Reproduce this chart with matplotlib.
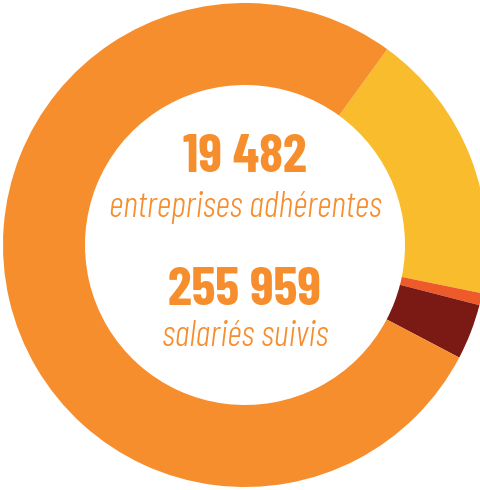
import matplotlib
matplotlib.use("Agg")
import matplotlib.pyplot as plt

# shares of the ring, clockwise from the top-right boundary
segments = ["jaune", "rouge", "bordeaux", "orange"]
shares = [18.2, 0.8, 3.7, 77.3]
colors = ["#F8BC2C", "#EF5A2B", "#7B1A14", "#F68E2E"]

big_numbers = ["19 482", "255 959"]
captions = ["entreprises adhérentes", "salariés suivis"]

W, H = 481, 490
fig = plt.figure(figsize=(W / 100, H / 100), dpi=100)
ax = fig.add_axes([0, 0, 1, 1])

ax.pie(shares, colors=colors, startangle=54, counterclock=False,
       center=(245, H - 245), radius=242,
       wedgeprops=dict(width=82, linewidth=0))
ax.set_xlim(0, W)
ax.set_ylim(0, H)
ax.set_aspect("equal")
ax.axis("off")

txt = "#F68E2E"
font = ["Barlow Condensed", "DejaVu Sans"]
fig.text(245 / W, 1 - 158 / H, big_numbers[0], ha="center", va="center",
         family=font, weight="bold", fontsize=39, color=txt)
fig.text(245 / W, 1 - 207 / H, captions[0], ha="center", va="center",
         family=font, style="italic", weight=300, fontsize=26, color=txt)
fig.text(245 / W, 1 - 291 / H, big_numbers[1], ha="center", va="center",
         family=font, weight="bold", fontsize=39, color=txt)
fig.text(245 / W, 1 - 336 / H, captions[1], ha="center", va="center",
         family=font, style="italic", weight=300, fontsize=26, color=txt)

fig.savefig("out.png", dpi=100)
